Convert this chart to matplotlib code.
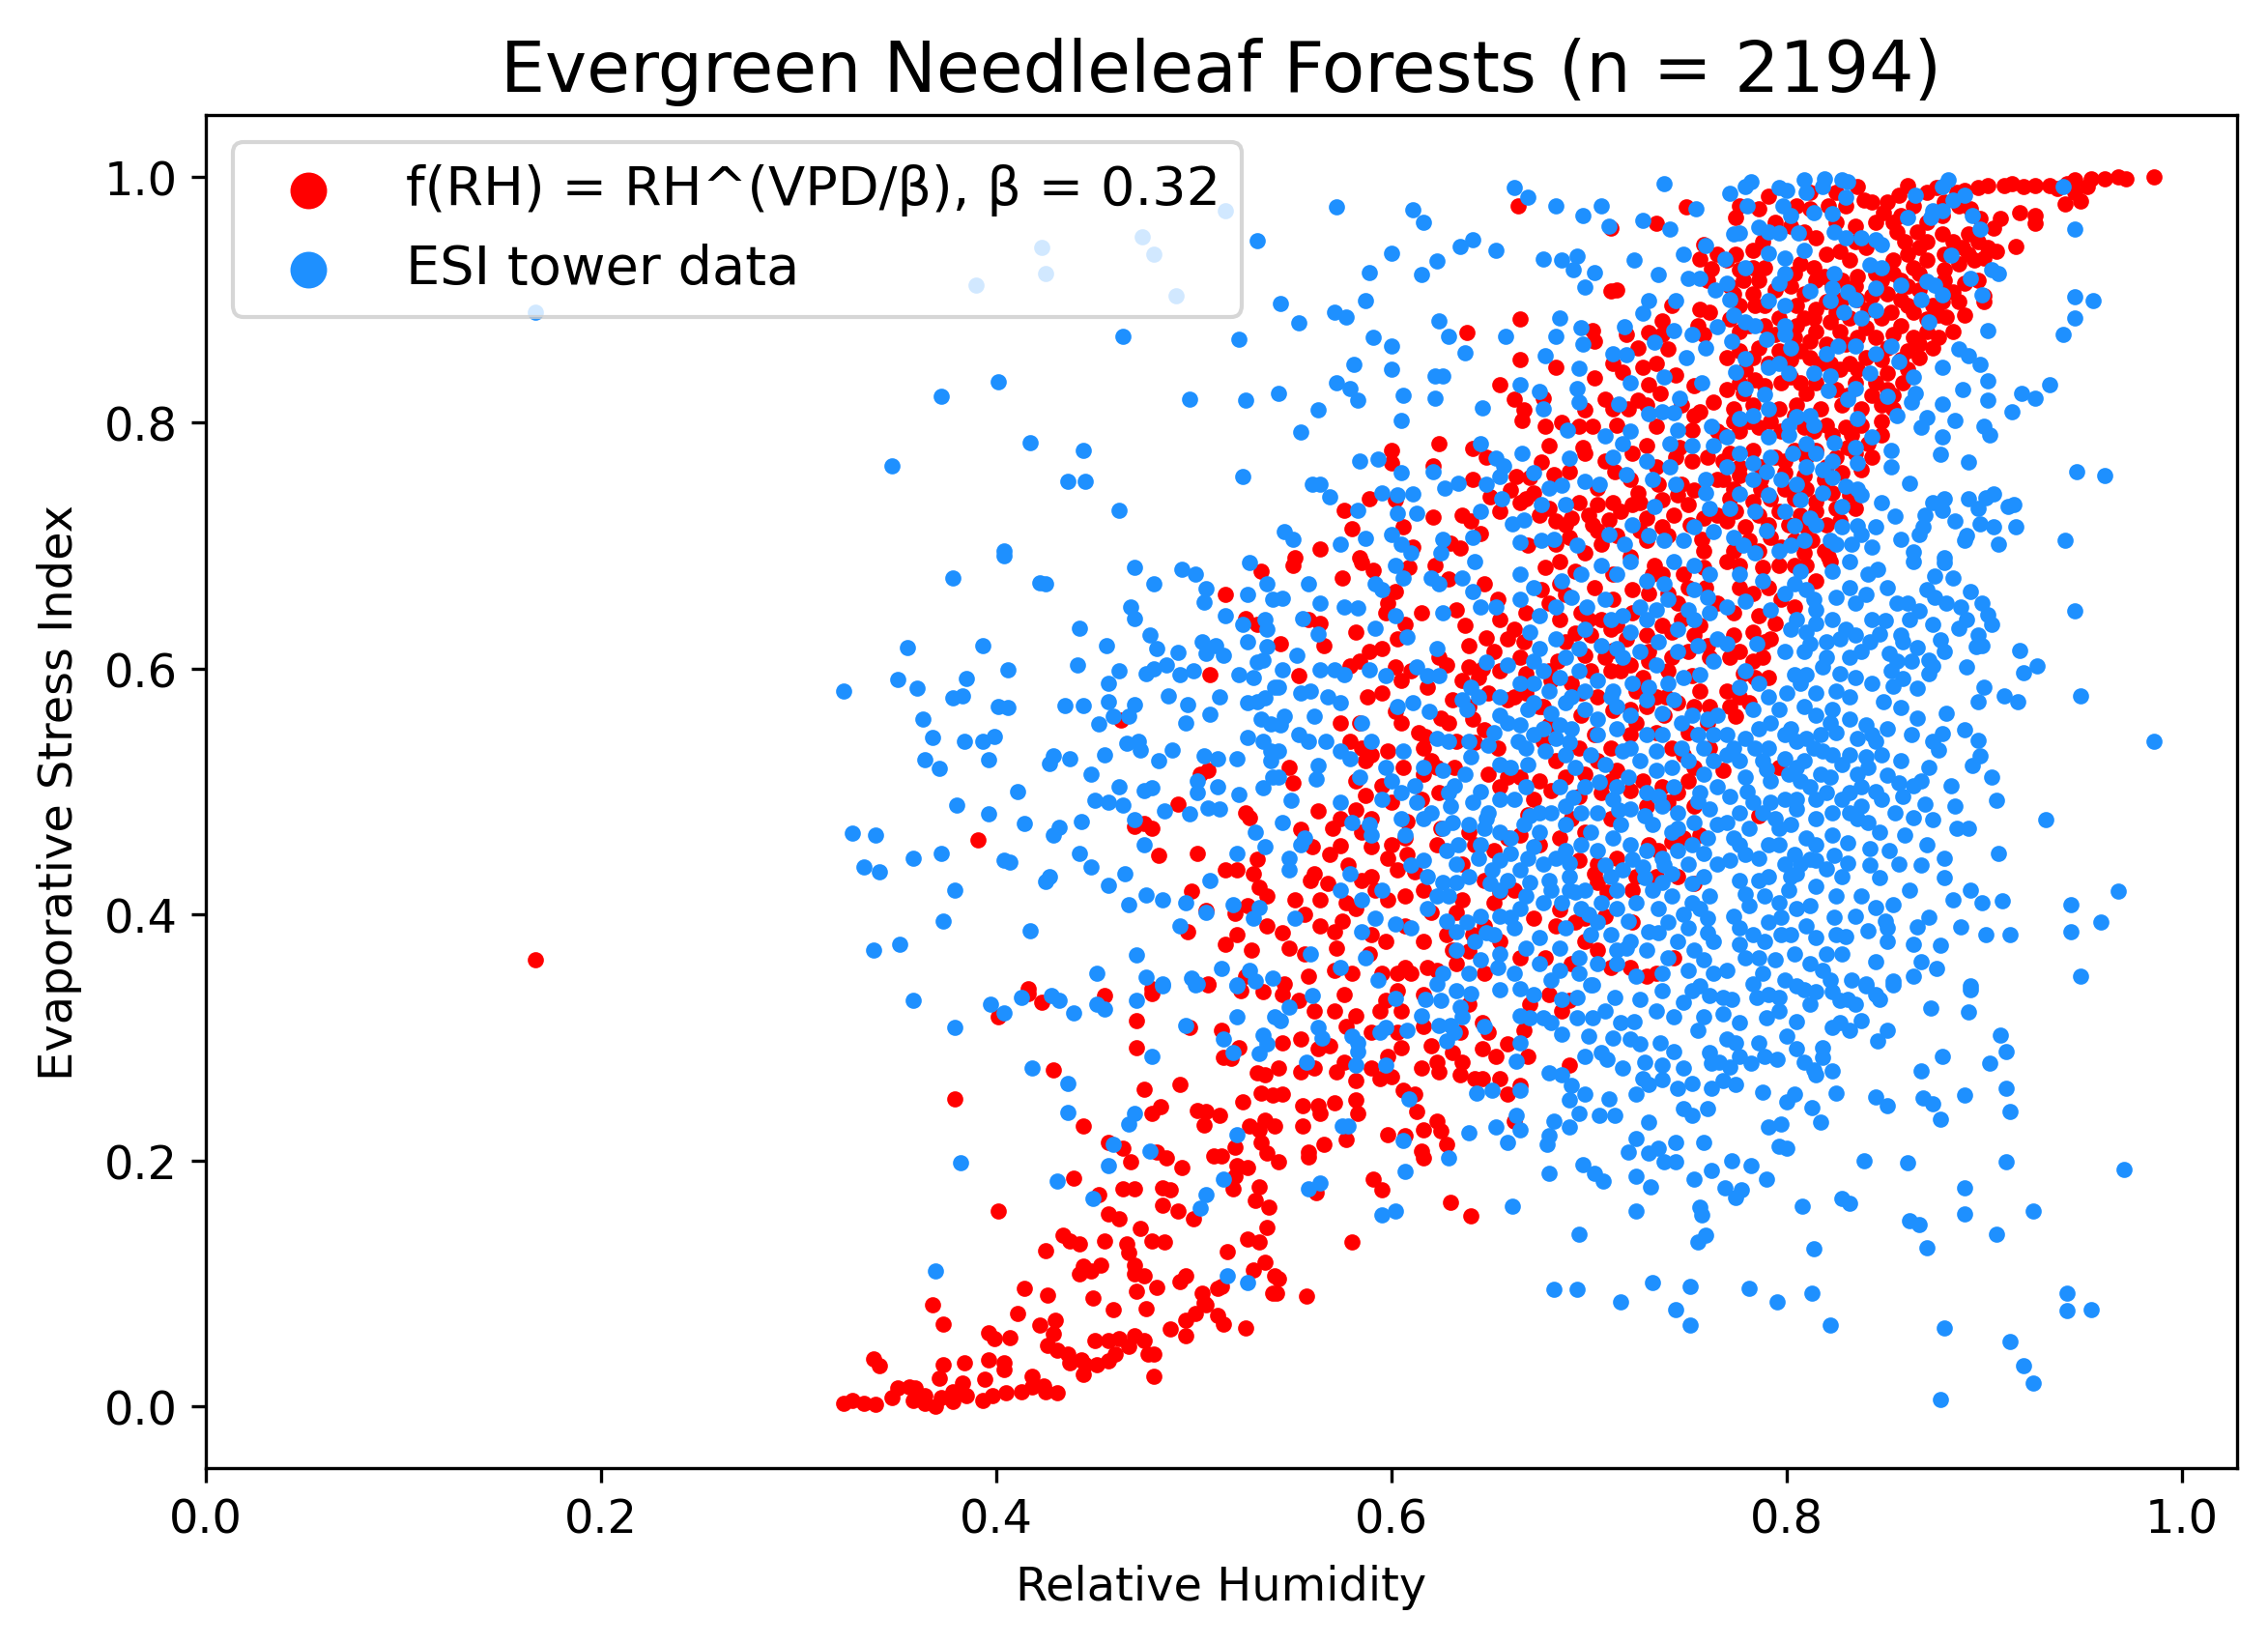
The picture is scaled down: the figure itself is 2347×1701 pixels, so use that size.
import matplotlib
matplotlib.use('Agg')
import matplotlib.pyplot as plt
import numpy as np

title = 'Evergreen Needleleaf Forests (n = 2194)'
model_label = 'f(RH) = RH^(VPD/β), β = 0.32'
tower_label = 'ESI tower data'

# (relative humidity, ESI), f(RH) model points
model_points = [
    (0.167, 0.363),
    (0.323, 0.003), (0.327, 0.005), (0.333, 0.003), (0.339, 0.002), (0.338, 0.039), (0.341, 0.033), (0.347, 0.007),
    (0.350, 0.015), (0.356, 0.016), (0.358, 0.005), (0.359, 0.015), (0.364, 0.009), (0.364, 0.003), (0.369, 0.0),
    (0.372, 0.007), (0.371, 0.023), (0.373, 0.034), (0.378, 0.012), (0.378, 0.004), (0.383, 0.019), (0.385, 0.009),
    (0.384, 0.036), (0.393, 0.005), (0.394, 0.022), (0.396, 0.038), (0.398, 0.009), (0.404, 0.036), (0.404, 0.030),
    (0.405, 0.011), (0.413, 0.012), (0.418, 0.016), (0.418, 0.025), (0.424, 0.017), (0.425, 0.012), (0.431, 0.011),
    (0.396, 0.060), (0.399, 0.055), (0.407, 0.056), (0.411, 0.076), (0.414, 0.096), (0.368, 0.083), (0.373, 0.067),
    (0.379, 0.250), (0.401, 0.159), (0.422, 0.066), (0.426, 0.091), (0.426, 0.050), (0.429, 0.059), (0.430, 0.070),
    (0.431, 0.046), (0.434, 0.139), (0.437, 0.135), (0.436, 0.043), (0.437, 0.036), (0.425, 0.127), (0.429, 0.274),
    (0.439, 0.186), (0.442, 0.132), (0.443, 0.038), (0.444, 0.026), (0.445, 0.034), (0.444, 0.228), (0.442, 0.108),
    (0.444, 0.114), (0.448, 0.110), (0.453, 0.115), (0.449, 0.088), (0.450, 0.054), (0.451, 0.034), (0.455, 0.135),
    (0.457, 0.054), (0.457, 0.037), (0.460, 0.043), (0.459, 0.079), (0.457, 0.215), (0.452, 0.172), (0.457, 0.157),
    (0.462, 0.153), (0.464, 0.210), (0.468, 0.199), (0.464, 0.177), (0.470, 0.177), (0.466, 0.132), (0.467, 0.125),
    (0.470, 0.115), (0.470, 0.108), (0.475, 0.106), (0.471, 0.094), (0.462, 0.055), (0.467, 0.049), (0.470, 0.058),
    (0.475, 0.054), (0.477, 0.043), (0.480, 0.043), (0.480, 0.025), (0.476, 0.080), (0.481, 0.097), (0.473, 0.145),
    (0.479, 0.135), (0.485, 0.134), (0.471, 0.314), (0.471, 0.292), (0.475, 0.258), (0.479, 0.238), (0.483, 0.244),
    (0.486, 0.202), (0.481, 0.207), (0.493, 0.262), (0.494, 0.194), (0.484, 0.178), (0.488, 0.176), (0.484, 0.164),
    (0.492, 0.159), (0.500, 0.153), (0.488, 0.063), (0.496, 0.058), (0.496, 0.070), (0.501, 0.076), (0.505, 0.084),
    (0.512, 0.074), (0.515, 0.067), (0.526, 0.064), (0.493, 0.102), (0.496, 0.106), (0.504, 0.092), (0.506, 0.083),
    (0.512, 0.096), (0.514, 0.098), (0.517, 0.126), (0.527, 0.136), (0.533, 0.134), (0.536, 0.117), (0.530, 0.111),
    (0.541, 0.106), (0.540, 0.092), (0.537, 0.146), (0.538, 0.162), (0.531, 0.168), (0.533, 0.179), (0.520, 0.177),
    (0.521, 0.187), (0.522, 0.196), (0.527, 0.194), (0.521, 0.211), (0.534, 0.215), (0.537, 0.206), (0.525, 0.248),
    (0.528, 0.228), (0.533, 0.225), (0.536, 0.233), (0.502, 0.241), (0.506, 0.240), (0.513, 0.237), (0.505, 0.229),
    (0.510, 0.204), (0.514, 0.204), (0.514, 0.306), (0.515, 0.284), (0.519, 0.283), (0.523, 0.292), (0.532, 0.271),
    (0.536, 0.270), (0.534, 0.255), (0.540, 0.253), (0.498, 0.308), (0.479, 0.336), (0.507, 0.343), (0.524, 0.338),
    (0.535, 0.337), (0.416, 0.336), (0.423, 0.329), (0.401, 0.317), (0.455, 0.334),
    (0.534, 0.679), (0.516, 0.660), (0.526, 0.641), (0.532, 0.636), (0.508, 0.595), (0.463, 0.558), (0.503, 0.514),
    (0.507, 0.517), (0.492, 0.490), (0.526, 0.483), (0.528, 0.479), (0.470, 0.472), (0.475, 0.474), (0.479, 0.470),
    (0.391, 0.461), (0.482, 0.448), (0.502, 0.450), (0.532, 0.445), (0.516, 0.436), (0.522, 0.436), (0.530, 0.433),
    (0.533, 0.422), (0.537, 0.415), (0.499, 0.419), (0.506, 0.403), (0.521, 0.401), (0.527, 0.407), (0.537, 0.391),
    (0.497, 0.386), (0.522, 0.384), (0.516, 0.376), (0.529, 0.371), (0.507, 0.344), (0.526, 0.350), (0.416, 0.340),
    (0.479, 0.340),
    (0.664, 0.976), (0.711, 0.958), (0.734, 0.962), (0.749, 0.975), (0.758, 0.945), (0.756, 0.933), (0.762, 0.925),
    (0.765, 0.937), (0.711, 0.907), (0.714, 0.908), (0.665, 0.884), (0.638, 0.873), (0.665, 0.851), (0.683, 0.845),
    (0.702, 0.875), (0.703, 0.866), (0.719, 0.872), (0.725, 0.861), (0.730, 0.873), (0.737, 0.883), (0.740, 0.860),
    (0.755, 0.879), (0.756, 0.892), (0.761, 0.890), (0.758, 0.872), (0.712, 0.848), (0.717, 0.841), (0.734, 0.848),
    (0.744, 0.839), (0.703, 0.836), (0.708, 0.819), (0.730, 0.831), (0.736, 0.824), (0.753, 0.830), (0.756, 0.809),
    (0.763, 0.817), (0.655, 0.831), (0.662, 0.819), (0.667, 0.810), (0.666, 0.802), (0.677, 0.820), (0.678, 0.797),
    (0.686, 0.800), (0.698, 0.810), (0.695, 0.797), (0.702, 0.797), (0.714, 0.798), (0.720, 0.811), (0.725, 0.818),
    (0.734, 0.797), (0.752, 0.794), (0.680, 0.781), (0.697, 0.780), (0.698, 0.775), (0.708, 0.769), (0.722, 0.775),
    (0.729, 0.781), (0.746, 0.780), (0.752, 0.769), (0.624, 0.783), (0.641, 0.779), (0.648, 0.772), (0.600, 0.777),
    (0.600, 0.767), (0.621, 0.765), (0.641, 0.754), (0.663, 0.756), (0.670, 0.755), (0.682, 0.758), (0.704, 0.747),
    (0.725, 0.743), (0.726, 0.735), (0.737, 0.737), (0.745, 0.741), (0.753, 0.745), (0.589, 0.738), (0.602, 0.737),
    (0.576, 0.729), (0.580, 0.714), (0.606, 0.715), (0.621, 0.723), (0.636, 0.725), (0.640, 0.720), (0.564, 0.697),
    (0.584, 0.690), (0.611, 0.699), (0.630, 0.702), (0.635, 0.698), (0.551, 0.690), (0.655, 0.728), (0.665, 0.735),
    (0.668, 0.738), (0.675, 0.725), (0.683, 0.720), (0.691, 0.722), (0.702, 0.717), (0.710, 0.721), (0.714, 0.708),
    (0.722, 0.733), (0.729, 0.722), (0.743, 0.725), (0.750, 0.733), (0.751, 0.717), (0.706, 0.701), (0.683, 0.701),
    (0.669, 0.700), (0.698, 0.694), (0.721, 0.691), (0.758, 0.696),
    (0.986, 1.0), (0.972, 0.998), (0.968, 1.0), (0.961, 0.998), (0.954, 0.998), (0.952, 0.992), (0.946, 0.997),
    (0.942, 0.994), (0.937, 0.990), (0.946, 0.987), (0.949, 0.980), (0.941, 0.978), (0.933, 0.993), (0.926, 0.993),
    (0.920, 0.992), (0.914, 0.994), (0.910, 0.993), (0.902, 0.993), (0.897, 0.991), (0.890, 0.989), (0.886, 0.987),
    (0.876, 0.991), (0.871, 0.987), (0.861, 0.993), (0.857, 0.985), (0.851, 0.979), (0.849, 0.971), (0.836, 0.992),
    (0.839, 0.981), (0.825, 0.987), (0.821, 0.976), (0.812, 0.987), (0.812, 0.974), (0.791, 0.984), (0.774, 0.967),
    (0.918, 0.971), (0.926, 0.968), (0.926, 0.962), (0.916, 0.943), (0.908, 0.966), (0.905, 0.958), (0.898, 0.966),
    (0.893, 0.974), (0.887, 0.976), (0.880, 0.979), (0.879, 0.968), (0.871, 0.963), (0.864, 0.976), (0.858, 0.968),
    (0.854, 0.963), (0.866, 0.955), (0.860, 0.947), (0.867, 0.942), (0.879, 0.953), (0.884, 0.947), (0.892, 0.953),
    (0.897, 0.947), (0.902, 0.942), (0.900, 0.934), (0.892, 0.937), (0.887, 0.929), (0.880, 0.924), (0.871, 0.932),
    (0.864, 0.926), (0.861, 0.937), (0.854, 0.932), (0.840, 0.942), (0.835, 0.947), (0.832, 0.932), (0.827, 0.939),
    (0.820, 0.937), (0.815, 0.950), (0.809, 0.955), (0.802, 0.960), (0.794, 0.963), (0.783, 0.940), (0.788, 0.947),
    (0.774, 0.937), (0.770, 0.932), (0.789, 0.926), (0.807, 0.929), (0.814, 0.926), (0.819, 0.919), (0.828, 0.916),
    (0.836, 0.919), (0.845, 0.921), (0.854, 0.921), (0.861, 0.911), (0.867, 0.908), (0.877, 0.911), (0.884, 0.906),
    (0.890, 0.913), (0.897, 0.916), (0.900, 0.903), (0.887, 0.898), (0.881, 0.886), (0.874, 0.895), (0.871, 0.884),
    (0.864, 0.890), (0.858, 0.900), (0.851, 0.905), (0.843, 0.903), (0.836, 0.900), (0.828, 0.900), (0.820, 0.898),
    (0.809, 0.905), (0.802, 0.911), (0.794, 0.908), (0.786, 0.916), (0.778, 0.916), (0.771, 0.911), (0.776, 0.895),
    (0.784, 0.895), (0.781, 0.879), (0.796, 0.885), (0.805, 0.879), (0.814, 0.885), (0.822, 0.882), (0.832, 0.885),
    (0.848, 0.885), (0.858, 0.879), (0.867, 0.864), (0.874, 0.861), (0.864, 0.869), (0.854, 0.872), (0.845, 0.869),
    (0.836, 0.869), (0.830, 0.864), (0.820, 0.864), (0.812, 0.866), (0.804, 0.869), (0.794, 0.872), (0.786, 0.861),
    (0.776, 0.858), (0.770, 0.853), (0.779, 0.843), (0.791, 0.848), (0.802, 0.851), (0.812, 0.853), (0.822, 0.848),
    (0.832, 0.848), (0.840, 0.853), (0.848, 0.851), (0.858, 0.851), (0.861, 0.843), (0.859, 0.832), (0.851, 0.827),
    (0.845, 0.832), (0.835, 0.832), (0.825, 0.827), (0.815, 0.832), (0.807, 0.832), (0.797, 0.832), (0.789, 0.830),
    (0.778, 0.824), (0.770, 0.827), (0.773, 0.811), (0.783, 0.814), (0.796, 0.811), (0.805, 0.814), (0.817, 0.811),
    (0.828, 0.814), (0.838, 0.811), (0.848, 0.814), (0.854, 0.811), (0.848, 0.801), (0.838, 0.798), (0.830, 0.796),
    (0.820, 0.798), (0.809, 0.796), (0.797, 0.793), (0.786, 0.796), (0.776, 0.793), (0.768, 0.790), (0.771, 0.775),
    (0.783, 0.777), (0.794, 0.772), (0.804, 0.777), (0.815, 0.777), (0.825, 0.772), (0.835, 0.775), (0.843, 0.772),
    (0.838, 0.762), (0.828, 0.759), (0.819, 0.754), (0.809, 0.757), (0.799, 0.759), (0.787, 0.754), (0.776, 0.757),
    (0.768, 0.754), (0.771, 0.738), (0.783, 0.736), (0.792, 0.738), (0.804, 0.738), (0.815, 0.736), (0.825, 0.730),
    (0.832, 0.741), (0.770, 0.720), (0.779, 0.715), (0.791, 0.717), (0.801, 0.717), (0.810, 0.715), (0.820, 0.717),
    (0.773, 0.696), (0.786, 0.696), (0.797, 0.699), (0.809, 0.694), (0.819, 0.696), (0.871, 0.874), (0.877, 0.887),
    (0.900, 0.898),
    (0.550, 0.684), (0.575, 0.674), (0.585, 0.686), (0.591, 0.680), (0.602, 0.663), (0.609, 0.682), (0.622, 0.684),
    (0.629, 0.673), (0.647, 0.669), (0.654, 0.656), (0.655, 0.640), (0.637, 0.635), (0.639, 0.619), (0.624, 0.609),
    (0.628, 0.603), (0.597, 0.645), (0.607, 0.636), (0.603, 0.624), (0.595, 0.616), (0.589, 0.614), (0.584, 0.606),
    (0.579, 0.602), (0.564, 0.637), (0.558, 0.640), (0.544, 0.620), (0.553, 0.594), (0.588, 0.577), (0.602, 0.601),
    (0.605, 0.590), (0.610, 0.598), (0.602, 0.565), (0.605, 0.556), (0.614, 0.548), (0.584, 0.556), (0.579, 0.541),
    (0.590, 0.530), (0.598, 0.533), (0.587, 0.525), (0.585, 0.535), (0.548, 0.520), (0.550, 0.507), (0.582, 0.509),
    (0.587, 0.497), (0.563, 0.484), (0.574, 0.478), (0.590, 0.478), (0.585, 0.467), (0.554, 0.469), (0.569, 0.449),
    (0.574, 0.456), (0.561, 0.433), (0.559, 0.428), (0.598, 0.446), (0.608, 0.449), (0.608, 0.476), (0.607, 0.462),
    (0.600, 0.491), (0.616, 0.514), (0.615, 0.494), (0.624, 0.499), (0.623, 0.520), (0.620, 0.525), (0.616, 0.535),
    (0.633, 0.541), (0.641, 0.559), (0.647, 0.550), (0.654, 0.535), (0.649, 0.514), (0.655, 0.504), (0.659, 0.512),
    (0.631, 0.575), (0.639, 0.569), (0.649, 0.580), (0.644, 0.593), (0.662, 0.577), (0.659, 0.624), (0.667, 0.622),
    (0.665, 0.609), (0.675, 0.569), (0.680, 0.598), (0.680, 0.554), (0.677, 0.541), (0.672, 0.494), (0.669, 0.481),
    (0.681, 0.501), (0.695, 0.496), (0.706, 0.499), (0.691, 0.478), (0.698, 0.467), (0.703, 0.433), (0.709, 0.418),
    (0.722, 0.420), (0.734, 0.431), (0.735, 0.452), (0.742, 0.459), (0.748, 0.462), (0.756, 0.465), (0.729, 0.488),
    (0.737, 0.504), (0.745, 0.499), (0.753, 0.488), (0.721, 0.501), (0.711, 0.478), (0.711, 0.509), (0.698, 0.514),
    (0.695, 0.535), (0.703, 0.546), (0.711, 0.535), (0.721, 0.546), (0.734, 0.548), (0.742, 0.535), (0.748, 0.530),
    (0.753, 0.520), (0.761, 0.535), (0.721, 0.567), (0.729, 0.569), (0.739, 0.577), (0.753, 0.569), (0.761, 0.569),
    (0.704, 0.577), (0.696, 0.562), (0.691, 0.588), (0.701, 0.598), (0.711, 0.598), (0.721, 0.603), (0.730, 0.606),
    (0.742, 0.609), (0.750, 0.614), (0.760, 0.619), (0.756, 0.635), (0.747, 0.640), (0.737, 0.635), (0.729, 0.627),
    (0.719, 0.624), (0.711, 0.632), (0.701, 0.627), (0.693, 0.629), (0.685, 0.640), (0.680, 0.653), (0.678, 0.682),
    (0.685, 0.669), (0.693, 0.679), (0.703, 0.666), (0.712, 0.677), (0.722, 0.664), (0.732, 0.677), (0.740, 0.661),
    (0.750, 0.666), (0.758, 0.682), (0.765, 0.653), (0.639, 0.467), (0.642, 0.457), (0.652, 0.452), (0.659, 0.462),
    (0.636, 0.441), (0.647, 0.428), (0.662, 0.420), (0.652, 0.410), (0.636, 0.412), (0.633, 0.402), (0.620, 0.402),
    (0.616, 0.420), (0.607, 0.415), (0.598, 0.412), (0.585, 0.428), (0.577, 0.410), (0.564, 0.412), (0.551, 0.412),
    (0.564, 0.391), (0.548, 0.373), (0.556, 0.368), (0.572, 0.373), (0.589, 0.368), (0.597, 0.378), (0.607, 0.357),
    (0.610, 0.352), (0.603, 0.352), (0.595, 0.352), (0.580, 0.352), (0.571, 0.355), (0.558, 0.350), (0.546, 0.344),
    (0.623, 0.355), (0.631, 0.371), (0.641, 0.384), (0.655, 0.378), (0.665, 0.365), (0.647, 0.352), (0.672, 0.397),
    (0.683, 0.391), (0.693, 0.394), (0.698, 0.378), (0.704, 0.371), (0.711, 0.357), (0.704, 0.426), (0.734, 0.352),
    (0.743, 0.365), (0.722, 0.394),
    (0.770, 0.687), (0.776, 0.684), (0.788, 0.682), (0.796, 0.684), (0.804, 0.684), (0.810, 0.684), (0.815, 0.671),
    (0.822, 0.687), (0.783, 0.661), (0.791, 0.666), (0.797, 0.656), (0.804, 0.650), (0.786, 0.643), (0.794, 0.637),
    (0.773, 0.627), (0.783, 0.630), (0.792, 0.624), (0.771, 0.609), (0.783, 0.606), (0.788, 0.609), (0.778, 0.596),
    (0.784, 0.593), (0.770, 0.582), (0.781, 0.572), (0.771, 0.569), (0.774, 0.561), (0.796, 0.520), (0.768, 0.517),
    (0.786, 0.480),
    (0.545, 0.335), (0.553, 0.330), (0.561, 0.322), (0.571, 0.322), (0.576, 0.335), (0.582, 0.318), (0.545, 0.296),
    (0.554, 0.299), (0.563, 0.291), (0.569, 0.293), (0.577, 0.309), (0.543, 0.275), (0.554, 0.272), (0.561, 0.275),
    (0.572, 0.272), (0.576, 0.280), (0.582, 0.265), (0.590, 0.275), (0.594, 0.267), (0.600, 0.268), (0.590, 0.304),
    (0.594, 0.322), (0.597, 0.330), (0.603, 0.338), (0.605, 0.322), (0.603, 0.304), (0.605, 0.292), (0.598, 0.285),
    (0.616, 0.335), (0.616, 0.309), (0.620, 0.293), (0.615, 0.275), (0.623, 0.280), (0.624, 0.272), (0.631, 0.288),
    (0.635, 0.304), (0.636, 0.280), (0.635, 0.270), (0.642, 0.267), (0.646, 0.267), (0.646, 0.291), (0.649, 0.304),
    (0.646, 0.312), (0.639, 0.327), (0.653, 0.285), (0.655, 0.267), (0.659, 0.295), (0.669, 0.285), (0.667, 0.306),
    (0.670, 0.327), (0.680, 0.335), (0.686, 0.322), (0.690, 0.330), (0.690, 0.278), (0.545, 0.254), (0.555, 0.245),
    (0.563, 0.245), (0.564, 0.238), (0.571, 0.247), (0.582, 0.249), (0.583, 0.238), (0.606, 0.257), (0.612, 0.254),
    (0.613, 0.240), (0.577, 0.217), (0.566, 0.213), (0.555, 0.228), (0.541, 0.228), (0.543, 0.199), (0.558, 0.207),
    (0.558, 0.203), (0.598, 0.221), (0.607, 0.220), (0.616, 0.225), (0.623, 0.232), (0.625, 0.224), (0.628, 0.213),
    (0.615, 0.208), (0.616, 0.202), (0.591, 0.185), (0.595, 0.176), (0.562, 0.174), (0.630, 0.166), (0.640, 0.155),
    (0.580, 0.134), (0.543, 0.104), (0.542, 0.092), (0.557, 0.090), (0.662, 0.232), (0.659, 0.254), (0.665, 0.261),
]

# more f(RH) points read inside the dense band, where dots overlap
model_core_points = [
    (0.659, 0.575), (0.668, 0.580), (0.677, 0.569), (0.681, 0.590), (0.688, 0.622), (0.698, 0.611), (0.706, 0.640),
    (0.714, 0.635), (0.722, 0.645), (0.730, 0.661), (0.737, 0.677), (0.745, 0.653), (0.753, 0.627), (0.761, 0.609),
    (0.708, 0.609), (0.716, 0.598), (0.724, 0.582), (0.734, 0.577), (0.745, 0.572), (0.756, 0.582), (0.704, 0.525),
    (0.714, 0.517), (0.727, 0.509), (0.740, 0.491), (0.750, 0.509), (0.688, 0.512), (0.683, 0.525), (0.675, 0.509),
    (0.665, 0.512), (0.665, 0.465), (0.675, 0.457), (0.685, 0.462), (0.695, 0.444), (0.704, 0.441), (0.714, 0.446),
    (0.724, 0.431), (0.730, 0.457), (0.745, 0.431), (0.753, 0.425), (0.685, 0.404), (0.678, 0.365), (0.691, 0.360),
    (0.698, 0.397), (0.708, 0.399), (0.721, 0.357), (0.729, 0.350), (0.655, 0.418), (0.647, 0.391), (0.639, 0.370),
    (0.633, 0.360), (0.616, 0.378), (0.618, 0.357), (0.628, 0.384), (0.566, 0.619), (0.582, 0.630), (0.598, 0.653),
    (0.615, 0.645), (0.633, 0.648), (0.652, 0.614), (0.639, 0.601), (0.618, 0.585), (0.629, 0.556), (0.595, 0.580),
    (0.574, 0.556), (0.600, 0.457), (0.623, 0.457), (0.603, 0.436), (0.590, 0.431), (0.582, 0.405), (0.571, 0.386),
    (0.590, 0.384), (0.607, 0.391),
    (0.776, 0.976), (0.786, 0.974), (0.805, 0.976), (0.830, 0.976), (0.843, 0.979), (0.845, 0.963), (0.835, 0.960),
    (0.825, 0.963), (0.856, 0.955), (0.871, 0.947), (0.889, 0.942), (0.895, 0.932), (0.906, 0.939), (0.880, 0.937),
    (0.867, 0.921), (0.880, 0.916), (0.858, 0.916), (0.848, 0.916), (0.835, 0.911), (0.823, 0.911), (0.815, 0.916),
    (0.804, 0.921), (0.783, 0.926), (0.776, 0.924), (0.773, 0.905), (0.783, 0.905), (0.789, 0.895), (0.805, 0.895),
    (0.815, 0.892), (0.825, 0.890), (0.841, 0.892), (0.853, 0.890), (0.861, 0.895), (0.879, 0.898), (0.890, 0.887),
    (0.884, 0.874), (0.877, 0.869), (0.861, 0.858), (0.851, 0.861), (0.840, 0.877), (0.827, 0.874), (0.815, 0.874),
    (0.809, 0.885), (0.789, 0.879), (0.776, 0.874), (0.771, 0.884), (0.783, 0.853), (0.796, 0.858), (0.807, 0.858),
    (0.817, 0.848), (0.827, 0.843), (0.836, 0.843), (0.851, 0.840), (0.867, 0.853), (0.776, 0.832), (0.784, 0.835),
    (0.802, 0.837), (0.810, 0.824), (0.831, 0.822), (0.843, 0.822), (0.854, 0.822), (0.773, 0.801), (0.781, 0.801),
    (0.792, 0.801), (0.804, 0.806), (0.814, 0.793), (0.823, 0.790), (0.833, 0.790), (0.841, 0.783), (0.848, 0.790),
    (0.831, 0.780), (0.820, 0.764), (0.810, 0.772), (0.799, 0.769), (0.787, 0.764), (0.776, 0.764), (0.768, 0.769),
    (0.773, 0.746), (0.787, 0.746), (0.799, 0.746), (0.810, 0.746), (0.823, 0.743), (0.835, 0.730), (0.774, 0.728),
    (0.786, 0.725), (0.796, 0.728), (0.807, 0.725), (0.815, 0.728), (0.827, 0.720), (0.781, 0.704), (0.792, 0.707),
    (0.804, 0.704), (0.813, 0.704), (0.821, 0.691),
    (0.760, 0.916), (0.742, 0.895), (0.737, 0.872), (0.727, 0.845), (0.712, 0.811), (0.729, 0.814), (0.747, 0.814),
    (0.753, 0.806), (0.765, 0.793), (0.744, 0.772), (0.734, 0.764), (0.721, 0.754), (0.712, 0.735), (0.704, 0.733),
    (0.695, 0.735), (0.688, 0.717), (0.680, 0.730), (0.672, 0.743), (0.704, 0.712), (0.729, 0.704), (0.737, 0.715),
    (0.758, 0.722), (0.765, 0.754), (0.760, 0.772),
    (0.776, 0.666), (0.773, 0.645), (0.789, 0.622), (0.776, 0.614), (0.791, 0.593), (0.776, 0.577),
    (0.685, 0.687), (0.733, 0.684), (0.748, 0.677), (0.759, 0.666), (0.742, 0.630), (0.730, 0.614), (0.712, 0.656),
    (0.696, 0.645), (0.688, 0.660), (0.676, 0.664), (0.668, 0.645), (0.662, 0.632), (0.648, 0.625), (0.655, 0.598),
    (0.668, 0.596), (0.684, 0.606), (0.696, 0.580), (0.712, 0.566), (0.724, 0.556), (0.738, 0.562), (0.750, 0.548),
    (0.760, 0.556), (0.752, 0.594), (0.740, 0.598), (0.727, 0.593), (0.712, 0.615), (0.700, 0.640),
    (0.690, 0.707), (0.700, 0.725), (0.716, 0.728), (0.726, 0.712), (0.740, 0.708), (0.757, 0.705), (0.765, 0.725),
    (0.747, 0.750), (0.735, 0.750), (0.713, 0.760), (0.690, 0.760), (0.676, 0.768), (0.660, 0.745), (0.650, 0.740),
    (0.645, 0.710),
    (0.560, 0.455), (0.570, 0.470), (0.582, 0.485), (0.595, 0.505), (0.606, 0.520), (0.617, 0.545), (0.625, 0.560),
    (0.636, 0.590), (0.646, 0.600), (0.590, 0.455), (0.578, 0.440), (0.568, 0.425), (0.556, 0.400), (0.545, 0.385),
    (0.575, 0.395), (0.592, 0.420), (0.612, 0.435), (0.625, 0.470), (0.632, 0.520), (0.642, 0.540),
]

tower_points = [
    (0.167, 0.890), (0.390, 0.912), (0.423, 0.942), (0.425, 0.921), (0.474, 0.951), (0.480, 0.937), (0.491, 0.903),
    (0.516, 0.972), (0.532, 0.948), (0.347, 0.765), (0.372, 0.821), (0.401, 0.833), (0.404, 0.696), (0.417, 0.784),
    (0.436, 0.752), (0.444, 0.777), (0.445, 0.752), (0.462, 0.729), (0.464, 0.870), (0.498, 0.819), (0.523, 0.868),
    (0.525, 0.756), (0.526, 0.818),
    (0.358, 0.330), (0.379, 0.308), (0.397, 0.327), (0.404, 0.320), (0.413, 0.333), (0.428, 0.334), (0.432, 0.330),
    (0.439, 0.320), (0.451, 0.327), (0.455, 0.323), (0.471, 0.330), (0.484, 0.342), (0.501, 0.343), (0.522, 0.342),
    (0.418, 0.275), (0.436, 0.263), (0.436, 0.239), (0.382, 0.198), (0.369, 0.110), (0.431, 0.183), (0.449, 0.169),
    (0.457, 0.196), (0.459, 0.213), (0.467, 0.230), (0.470, 0.238), (0.478, 0.208), (0.479, 0.285), (0.496, 0.310),
    (0.515, 0.299), (0.522, 0.317), (0.520, 0.288), (0.535, 0.302), (0.533, 0.287), (0.537, 0.295), (0.541, 0.317),
    (0.522, 0.221), (0.515, 0.185), (0.506, 0.172), (0.503, 0.161), (0.517, 0.106), (0.527, 0.101),
    (0.378, 0.674), (0.404, 0.692), (0.422, 0.670), (0.425, 0.669), (0.470, 0.682), (0.480, 0.669), (0.494, 0.681),
    (0.501, 0.677), (0.506, 0.665), (0.505, 0.654), (0.528, 0.686), (0.537, 0.669), (0.527, 0.660), (0.540, 0.656),
    (0.516, 0.643), (0.525, 0.636), (0.536, 0.640), (0.537, 0.632), (0.468, 0.650), (0.470, 0.641), (0.442, 0.633),
    (0.355, 0.617), (0.393, 0.619), (0.406, 0.599), (0.441, 0.603), (0.456, 0.619), (0.478, 0.627), (0.481, 0.616),
    (0.492, 0.613), (0.504, 0.622), (0.511, 0.619), (0.506, 0.612), (0.515, 0.611), (0.527, 0.622), (0.537, 0.618),
    (0.535, 0.607), (0.532, 0.605), (0.323, 0.582), (0.350, 0.591), (0.360, 0.584), (0.385, 0.592), (0.378, 0.576),
    (0.383, 0.578), (0.401, 0.569), (0.406, 0.568), (0.363, 0.559), (0.368, 0.544), (0.384, 0.541), (0.393, 0.541),
    (0.399, 0.545), (0.396, 0.526), (0.364, 0.526), (0.371, 0.519), (0.435, 0.570), (0.444, 0.570), (0.457, 0.588),
    (0.462, 0.598), (0.457, 0.573), (0.452, 0.555), (0.459, 0.561), (0.467, 0.561), (0.470, 0.571), (0.476, 0.596),
    (0.480, 0.600), (0.486, 0.603), (0.493, 0.595), (0.500, 0.598), (0.487, 0.578), (0.497, 0.571), (0.496, 0.556),
    (0.508, 0.563), (0.513, 0.577), (0.523, 0.595), (0.530, 0.593), (0.527, 0.572), (0.532, 0.573), (0.536, 0.576),
    (0.534, 0.559), (0.539, 0.555), (0.541, 0.585), (0.527, 0.544), (0.535, 0.541), (0.539, 0.533), (0.539, 0.525),
    (0.540, 0.512), (0.535, 0.503), (0.466, 0.539), (0.472, 0.541), (0.473, 0.534), (0.489, 0.534), (0.482, 0.525),
    (0.505, 0.529), (0.512, 0.527), (0.522, 0.527), (0.455, 0.530), (0.427, 0.523), (0.429, 0.529), (0.437, 0.527),
    (0.448, 0.514), (0.411, 0.500), (0.380, 0.489), (0.396, 0.482), (0.414, 0.474), (0.429, 0.465), (0.432, 0.471),
    (0.443, 0.476), (0.450, 0.493), (0.457, 0.491), (0.464, 0.489), (0.462, 0.504), (0.475, 0.501), (0.479, 0.503),
    (0.502, 0.509), (0.502, 0.499), (0.512, 0.504), (0.523, 0.498), (0.485, 0.484), (0.498, 0.482), (0.507, 0.487),
    (0.513, 0.486), (0.531, 0.467), (0.536, 0.455), (0.522, 0.450), (0.470, 0.477), (0.475, 0.457), (0.327, 0.466),
    (0.339, 0.465), (0.333, 0.439), (0.341, 0.435), (0.358, 0.446), (0.372, 0.450), (0.404, 0.444), (0.407, 0.443),
    (0.379, 0.420), (0.373, 0.395), (0.425, 0.427), (0.427, 0.431), (0.442, 0.450), (0.448, 0.439), (0.457, 0.424),
    (0.465, 0.433), (0.467, 0.408), (0.476, 0.416), (0.484, 0.412), (0.496, 0.410), (0.506, 0.402), (0.508, 0.428),
    (0.520, 0.408), (0.533, 0.406), (0.530, 0.397), (0.493, 0.391), (0.417, 0.387), (0.338, 0.371), (0.351, 0.376),
    (0.471, 0.367), (0.451, 0.352), (0.476, 0.349), (0.484, 0.344), (0.499, 0.348), (0.502, 0.344), (0.514, 0.356),
    (0.522, 0.343), (0.528, 0.355), (0.531, 0.346), (0.540, 0.348),
    (0.572, 0.975), (0.611, 0.973), (0.616, 0.963), (0.662, 0.991), (0.669, 0.983), (0.683, 0.976), (0.697, 0.968),
    (0.706, 0.976), (0.710, 0.960), (0.727, 0.964), (0.738, 0.994), (0.741, 0.957), (0.754, 0.974), (0.600, 0.938),
    (0.589, 0.922), (0.615, 0.920), (0.623, 0.931), (0.635, 0.943), (0.641, 0.949), (0.653, 0.940), (0.677, 0.933),
    (0.686, 0.932), (0.694, 0.935), (0.692, 0.924), (0.703, 0.922), (0.698, 0.910), (0.723, 0.932), (0.735, 0.920),
    (0.748, 0.937), (0.750, 0.917), (0.756, 0.917), (0.759, 0.944), (0.544, 0.897), (0.553, 0.881), (0.571, 0.890),
    (0.577, 0.886), (0.587, 0.899), (0.624, 0.883), (0.629, 0.870), (0.637, 0.857), (0.658, 0.870), (0.685, 0.885),
    (0.683, 0.870), (0.696, 0.877), (0.697, 0.864), (0.718, 0.878), (0.730, 0.899), (0.727, 0.889), (0.744, 0.899),
    (0.743, 0.875), (0.752, 0.872), (0.764, 0.908), (0.765, 0.878), (0.591, 0.869), (0.600, 0.862), (0.581, 0.847),
    (0.600, 0.843), (0.572, 0.832), (0.579, 0.828), (0.583, 0.818), (0.543, 0.824), (0.563, 0.810), (0.554, 0.792),
    (0.606, 0.822), (0.605, 0.802), (0.622, 0.820), (0.622, 0.838), (0.626, 0.838), (0.646, 0.812), (0.665, 0.831),
    (0.675, 0.825), (0.677, 0.811), (0.678, 0.854), (0.695, 0.844), (0.694, 0.828), (0.695, 0.817), (0.712, 0.856),
    (0.719, 0.855), (0.721, 0.832), (0.733, 0.865), (0.738, 0.837), (0.749, 0.853), (0.759, 0.861), (0.757, 0.832),
    (0.715, 0.815), (0.730, 0.807), (0.737, 0.809), (0.743, 0.808), (0.746, 0.820), (0.762, 0.797), (0.689, 0.794),
    (0.708, 0.789), (0.721, 0.793), (0.717, 0.783), (0.745, 0.794), (0.741, 0.783), (0.752, 0.781), (0.763, 0.781),
    (0.645, 0.783), (0.666, 0.775), (0.653, 0.771), (0.657, 0.765), (0.655, 0.756), (0.584, 0.769), (0.593, 0.770),
    (0.605, 0.759), (0.621, 0.760), (0.634, 0.751), (0.627, 0.747), (0.648, 0.750), (0.672, 0.759), (0.680, 0.747),
    (0.686, 0.749), (0.690, 0.771), (0.698, 0.752), (0.705, 0.750), (0.712, 0.772), (0.719, 0.758), (0.729, 0.769),
    (0.732, 0.754), (0.741, 0.764), (0.744, 0.750), (0.759, 0.754), (0.759, 0.743), (0.560, 0.750), (0.564, 0.750),
    (0.569, 0.740), (0.583, 0.729), (0.595, 0.743), (0.603, 0.741), (0.603, 0.726), (0.611, 0.742), (0.613, 0.726),
    (0.546, 0.711), (0.550, 0.705), (0.574, 0.701), (0.587, 0.706), (0.600, 0.709), (0.605, 0.701), (0.610, 0.694),
    (0.626, 0.705), (0.625, 0.694), (0.641, 0.707), (0.645, 0.728), (0.656, 0.738), (0.661, 0.718), (0.667, 0.721),
    (0.665, 0.703), (0.676, 0.733), (0.676, 0.704), (0.682, 0.705), (0.688, 0.733), (0.694, 0.700), (0.710, 0.709),
    (0.718, 0.701), (0.722, 0.717), (0.730, 0.708), (0.733, 0.732), (0.738, 0.704), (0.748, 0.704), (0.753, 0.715),
    (0.763, 0.711), (0.761, 0.730),
    (0.771, 0.986), (0.782, 0.996), (0.779, 0.992), (0.780, 0.976), (0.796, 0.991), (0.800, 0.989), (0.809, 0.997),
    (0.810, 0.987), (0.819, 0.998), (0.818, 0.992), (0.828, 0.997), (0.831, 0.996), (0.830, 0.983), (0.798, 0.976),
    (0.802, 0.968), (0.814, 0.971), (0.823, 0.970), (0.773, 0.953), (0.776, 0.954), (0.786, 0.959), (0.791, 0.955),
    (0.796, 0.954), (0.806, 0.954), (0.824, 0.955), (0.830, 0.950), (0.838, 0.950), (0.845, 0.949), (0.848, 0.945),
    (0.865, 0.985), (0.882, 0.997), (0.879, 0.992), (0.884, 0.981), (0.890, 0.985), (0.874, 0.972), (0.879, 0.972),
    (0.873, 0.967), (0.861, 0.967), (0.894, 0.968), (0.898, 0.957), (0.940, 0.992), (0.946, 0.957), (0.791, 0.938),
    (0.769, 0.933), (0.779, 0.926), (0.809, 0.940), (0.799, 0.934), (0.799, 0.921), (0.824, 0.921), (0.842, 0.928),
    (0.848, 0.926), (0.883, 0.936), (0.871, 0.915), (0.875, 0.912), (0.858, 0.912), (0.845, 0.909), (0.823, 0.909),
    (0.831, 0.906), (0.812, 0.907), (0.796, 0.913), (0.770, 0.913), (0.771, 0.900), (0.791, 0.899), (0.799, 0.895),
    (0.822, 0.899), (0.835, 0.900), (0.829, 0.890), (0.838, 0.885), (0.845, 0.891), (0.868, 0.900), (0.879, 0.904),
    (0.893, 0.917), (0.899, 0.904), (0.904, 0.924), (0.907, 0.921), (0.872, 0.882), (0.946, 0.902), (0.955, 0.899),
    (0.946, 0.885), (0.940, 0.872), (0.902, 0.875), (0.773, 0.887), (0.779, 0.882), (0.784, 0.879), (0.772, 0.866),
    (0.790, 0.868), (0.799, 0.879), (0.799, 0.872), (0.802, 0.861), (0.779, 0.852), (0.791, 0.845), (0.796, 0.848),
    (0.801, 0.840), (0.774, 0.841), (0.779, 0.828), (0.789, 0.823), (0.814, 0.840), (0.822, 0.838), (0.820, 0.856),
    (0.826, 0.862), (0.835, 0.862), (0.845, 0.856), (0.853, 0.862), (0.857, 0.850), (0.842, 0.840), (0.835, 0.828),
    (0.821, 0.826), (0.831, 0.819), (0.851, 0.821), (0.864, 0.837), (0.865, 0.824), (0.863, 0.817), (0.879, 0.845),
    (0.887, 0.860), (0.892, 0.854), (0.898, 0.847), (0.902, 0.834), (0.889, 0.827), (0.902, 0.818), (0.919, 0.824),
    (0.926, 0.820), (0.933, 0.831), (0.914, 0.809), (0.879, 0.815), (0.885, 0.802), (0.871, 0.804), (0.868, 0.796),
    (0.879, 0.788), (0.878, 0.774), (0.900, 0.797), (0.903, 0.790), (0.892, 0.768), (0.947, 0.760), (0.961, 0.757),
    (0.856, 0.806), (0.836, 0.803), (0.843, 0.788), (0.853, 0.777), (0.853, 0.764), (0.824, 0.784), (0.835, 0.780),
    (0.836, 0.767), (0.812, 0.806), (0.805, 0.805), (0.791, 0.811), (0.783, 0.806), (0.776, 0.803), (0.770, 0.788),
    (0.791, 0.788), (0.801, 0.798), (0.801, 0.790), (0.810, 0.783), (0.814, 0.798), (0.803, 0.775), (0.815, 0.775),
    (0.823, 0.769), (0.776, 0.775), (0.783, 0.767), (0.792, 0.772), (0.770, 0.764), (0.783, 0.754), (0.797, 0.754),
    (0.810, 0.764), (0.823, 0.755), (0.836, 0.746), (0.776, 0.742), (0.791, 0.741), (0.807, 0.737), (0.818, 0.743),
    (0.828, 0.732), (0.838, 0.741), (0.862, 0.751), (0.874, 0.735), (0.880, 0.738), (0.879, 0.729), (0.892, 0.738),
    (0.897, 0.730), (0.901, 0.739), (0.905, 0.742), (0.912, 0.732), (0.915, 0.733), (0.855, 0.724), (0.836, 0.716),
    (0.838, 0.709), (0.869, 0.715), (0.867, 0.709), (0.891, 0.708), (0.890, 0.704), (0.905, 0.715), (0.916, 0.715),
    (0.907, 0.701), (0.941, 0.704), (0.864, 0.695), (0.880, 0.690), (0.833, 0.701), (0.843, 0.699), (0.771, 0.730),
    (0.784, 0.728), (0.799, 0.728), (0.804, 0.716), (0.815, 0.717), (0.809, 0.704), (0.822, 0.704), (0.825, 0.701),
    (0.773, 0.707), (0.784, 0.694), (0.796, 0.696),
    (0.558, 0.669), (0.545, 0.657), (0.564, 0.653), (0.576, 0.650), (0.583, 0.649), (0.555, 0.641), (0.563, 0.628),
    (0.592, 0.633), (0.602, 0.643), (0.608, 0.626), (0.602, 0.684), (0.606, 0.674), (0.592, 0.669), (0.595, 0.664),
    (0.620, 0.674), (0.624, 0.669), (0.636, 0.674), (0.641, 0.663), (0.642, 0.687), (0.626, 0.645), (0.623, 0.616),
    (0.645, 0.650), (0.653, 0.650), (0.552, 0.611), (0.545, 0.599), (0.543, 0.585), (0.564, 0.599), (0.571, 0.599),
    (0.576, 0.595), (0.589, 0.599), (0.597, 0.594), (0.613, 0.601), (0.618, 0.594), (0.624, 0.594), (0.554, 0.580),
    (0.559, 0.582), (0.568, 0.577), (0.574, 0.572), (0.561, 0.561), (0.546, 0.561), (0.544, 0.554), (0.553, 0.546),
    (0.558, 0.541), (0.567, 0.541), (0.574, 0.533), (0.579, 0.527), (0.563, 0.521), (0.562, 0.510), (0.543, 0.533),
    (0.543, 0.512), (0.590, 0.541), (0.585, 0.556), (0.606, 0.533), (0.603, 0.569), (0.611, 0.572), (0.619, 0.565),
    (0.623, 0.543), (0.629, 0.541), (0.639, 0.541), (0.649, 0.538), (0.638, 0.567), (0.644, 0.577), (0.636, 0.575),
    (0.655, 0.577), (0.584, 0.512), (0.597, 0.520), (0.600, 0.509), (0.605, 0.499), (0.595, 0.494), (0.613, 0.491),
    (0.616, 0.520), (0.626, 0.517), (0.637, 0.514), (0.629, 0.499), (0.641, 0.491), (0.649, 0.483), (0.655, 0.494),
    (0.662, 0.494), (0.660, 0.520), (0.669, 0.522), (0.678, 0.533), (0.683, 0.543), (0.677, 0.551), (0.681, 0.564),
    (0.685, 0.554), (0.688, 0.530), (0.693, 0.520), (0.701, 0.530), (0.708, 0.522), (0.717, 0.533), (0.726, 0.525),
    (0.734, 0.517), (0.742, 0.520), (0.750, 0.525), (0.758, 0.514), (0.763, 0.525), (0.763, 0.546), (0.755, 0.546),
    (0.747, 0.556), (0.737, 0.546), (0.729, 0.546), (0.714, 0.551), (0.704, 0.559), (0.698, 0.567), (0.688, 0.572),
    (0.680, 0.582), (0.672, 0.588), (0.669, 0.567), (0.665, 0.554), (0.664, 0.541), (0.672, 0.606), (0.685, 0.593),
    (0.688, 0.609), (0.695, 0.616), (0.698, 0.582), (0.704, 0.590), (0.712, 0.582), (0.722, 0.588), (0.730, 0.585),
    (0.740, 0.588), (0.748, 0.593), (0.756, 0.595), (0.752, 0.562), (0.760, 0.559), (0.737, 0.564), (0.721, 0.562),
    (0.714, 0.569), (0.706, 0.619), (0.714, 0.616), (0.726, 0.614), (0.735, 0.622), (0.745, 0.632), (0.753, 0.640),
    (0.761, 0.645), (0.755, 0.619), (0.765, 0.624), (0.734, 0.648), (0.726, 0.650), (0.717, 0.643), (0.708, 0.656),
    (0.699, 0.650), (0.691, 0.658), (0.683, 0.650), (0.675, 0.643), (0.670, 0.630), (0.665, 0.656), (0.665, 0.677),
    (0.672, 0.666), (0.686, 0.671), (0.696, 0.677), (0.706, 0.684), (0.714, 0.677), (0.721, 0.687), (0.729, 0.671),
    (0.738, 0.669), (0.743, 0.687), (0.753, 0.664), (0.761, 0.677), (0.753, 0.684), (0.549, 0.493), (0.545, 0.475),
    (0.556, 0.462), (0.554, 0.457), (0.548, 0.446), (0.548, 0.436), (0.574, 0.491), (0.580, 0.475), (0.589, 0.473),
    (0.590, 0.465), (0.607, 0.465), (0.616, 0.478), (0.620, 0.483), (0.626, 0.470), (0.631, 0.475), (0.639, 0.473),
    (0.647, 0.470), (0.634, 0.457), (0.628, 0.452), (0.616, 0.444), (0.618, 0.431), (0.626, 0.426), (0.623, 0.415),
    (0.629, 0.415), (0.639, 0.431), (0.644, 0.446), (0.651, 0.436), (0.655, 0.444), (0.660, 0.462), (0.667, 0.473),
    (0.675, 0.483), (0.681, 0.483), (0.688, 0.473), (0.696, 0.483), (0.704, 0.483), (0.712, 0.494), (0.721, 0.486),
    (0.729, 0.499), (0.737, 0.488), (0.745, 0.483), (0.753, 0.475), (0.761, 0.486), (0.765, 0.504), (0.760, 0.462),
    (0.752, 0.457), (0.745, 0.452), (0.737, 0.446), (0.729, 0.452), (0.721, 0.457), (0.712, 0.462), (0.704, 0.452),
    (0.696, 0.457), (0.688, 0.452), (0.683, 0.446), (0.677, 0.441), (0.669, 0.446), (0.665, 0.436), (0.659, 0.428),
    (0.670, 0.426), (0.680, 0.428), (0.690, 0.431), (0.698, 0.420), (0.711, 0.431), (0.717, 0.436), (0.727, 0.439),
    (0.742, 0.433), (0.750, 0.441), (0.758, 0.431), (0.765, 0.441), (0.761, 0.415), (0.752, 0.410), (0.742, 0.415),
    (0.732, 0.420), (0.724, 0.410), (0.714, 0.405), (0.706, 0.410), (0.696, 0.405), (0.686, 0.410), (0.677, 0.410),
    (0.665, 0.405), (0.655, 0.399), (0.645, 0.399), (0.638, 0.394), (0.633, 0.386), (0.642, 0.378), (0.652, 0.384),
    (0.662, 0.389), (0.675, 0.381), (0.685, 0.373), (0.695, 0.365), (0.701, 0.384), (0.711, 0.384), (0.721, 0.378),
    (0.730, 0.386), (0.740, 0.394), (0.750, 0.389), (0.760, 0.397), (0.763, 0.378), (0.753, 0.371), (0.740, 0.365),
    (0.729, 0.371), (0.719, 0.373), (0.714, 0.360), (0.701, 0.343), (0.685, 0.355), (0.675, 0.360), (0.662, 0.352),
    (0.654, 0.357), (0.639, 0.352), (0.626, 0.352), (0.623, 0.344), (0.610, 0.389), (0.602, 0.392), (0.592, 0.397),
    (0.585, 0.412), (0.595, 0.420), (0.585, 0.386), (0.574, 0.420), (0.579, 0.433), (0.551, 0.397), (0.559, 0.368),
    (0.574, 0.357), (0.593, 0.347), (0.587, 0.365), (0.750, 0.355), (0.756, 0.342), (0.763, 0.352),
    (0.864, 0.687), (0.880, 0.686), (0.875, 0.675), (0.884, 0.674), (0.851, 0.666), (0.841, 0.677), (0.846, 0.681),
    (0.832, 0.687), (0.823, 0.679), (0.804, 0.669), (0.810, 0.664), (0.814, 0.656), (0.825, 0.658), (0.835, 0.653),
    (0.840, 0.660), (0.856, 0.653), (0.861, 0.653), (0.871, 0.664), (0.875, 0.658), (0.881, 0.653), (0.867, 0.647),
    (0.899, 0.653), (0.902, 0.644), (0.904, 0.636), (0.946, 0.647), (0.850, 0.639), (0.847, 0.628), (0.858, 0.627),
    (0.859, 0.622), (0.874, 0.636), (0.878, 0.623), (0.880, 0.614), (0.887, 0.633), (0.891, 0.640), (0.897, 0.627),
    (0.896, 0.618), (0.899, 0.619), (0.918, 0.615), (0.920, 0.597), (0.927, 0.602), (0.949, 0.578), (0.891, 0.601),
    (0.872, 0.607), (0.874, 0.602), (0.872, 0.596), (0.863, 0.606), (0.856, 0.606), (0.853, 0.598), (0.859, 0.592),
    (0.854, 0.586), (0.866, 0.584), (0.838, 0.614), (0.832, 0.609), (0.827, 0.596), (0.818, 0.601), (0.820, 0.622),
    (0.827, 0.624), (0.830, 0.632), (0.823, 0.640), (0.810, 0.630), (0.815, 0.637), (0.805, 0.640), (0.809, 0.614),
    (0.799, 0.614), (0.804, 0.595), (0.810, 0.595), (0.807, 0.588), (0.815, 0.580), (0.825, 0.582), (0.832, 0.577),
    (0.823, 0.567), (0.822, 0.556), (0.825, 0.548), (0.817, 0.546), (0.810, 0.543), (0.805, 0.541), (0.799, 0.546),
    (0.802, 0.551), (0.796, 0.567), (0.791, 0.577), (0.786, 0.588), (0.776, 0.585), (0.792, 0.556), (0.786, 0.551),
    (0.779, 0.543), (0.770, 0.546), (0.773, 0.535), (0.784, 0.535), (0.791, 0.535), (0.788, 0.525), (0.801, 0.514),
    (0.805, 0.520), (0.814, 0.535), (0.818, 0.533), (0.823, 0.530), (0.828, 0.522), (0.817, 0.514), (0.822, 0.512),
    (0.812, 0.504), (0.807, 0.509), (0.792, 0.509), (0.779, 0.512), (0.771, 0.496), (0.783, 0.491), (0.788, 0.483),
    (0.792, 0.491), (0.799, 0.494), (0.805, 0.494), (0.815, 0.494), (0.820, 0.499), (0.832, 0.499), (0.838, 0.504),
    (0.836, 0.514), (0.841, 0.520), (0.840, 0.528), (0.843, 0.546), (0.836, 0.543), (0.845, 0.541), (0.840, 0.554),
    (0.851, 0.551), (0.863, 0.546), (0.858, 0.525), (0.851, 0.513), (0.857, 0.507), (0.859, 0.496), (0.855, 0.483),
    (0.868, 0.509), (0.874, 0.541), (0.879, 0.547), (0.877, 0.534), (0.890, 0.550), (0.897, 0.542), (0.898, 0.529),
    (0.894, 0.521), (0.904, 0.512), (0.881, 0.564), (0.883, 0.505), (0.897, 0.573), (0.900, 0.585), (0.910, 0.578),
    (0.917, 0.573), (0.986, 0.541), (0.906, 0.493), (0.931, 0.477), (0.907, 0.450), (0.886, 0.470), (0.874, 0.477),
    (0.864, 0.479), (0.871, 0.457), (0.880, 0.446), (0.868, 0.440), (0.857, 0.441), (0.847, 0.430), (0.842, 0.454),
    (0.831, 0.458), (0.831, 0.442), (0.847, 0.467), (0.836, 0.478), (0.841, 0.475), (0.884, 0.412), (0.893, 0.420),
    (0.899, 0.410), (0.909, 0.411), (0.872, 0.398), (0.968, 0.419), (0.944, 0.408), (0.959, 0.394), (0.944, 0.386),
    (0.901, 0.384), (0.913, 0.384), (0.949, 0.350), (0.876, 0.356), (0.864, 0.350), (0.854, 0.346), (0.893, 0.342),
    (0.864, 0.376), (0.851, 0.378), (0.851, 0.389), (0.841, 0.387), (0.830, 0.382), (0.835, 0.399), (0.845, 0.406),
    (0.854, 0.408), (0.833, 0.347), (0.840, 0.344), (0.820, 0.437), (0.815, 0.423), (0.812, 0.407), (0.810, 0.391),
    (0.815, 0.381), (0.820, 0.368), (0.812, 0.360), (0.804, 0.368), (0.797, 0.384), (0.791, 0.394), (0.783, 0.384),
    (0.776, 0.376), (0.770, 0.355), (0.788, 0.352), (0.799, 0.347), (0.805, 0.342), (0.773, 0.399), (0.781, 0.407),
    (0.789, 0.415), (0.801, 0.420), (0.776, 0.428), (0.786, 0.428), (0.771, 0.444), (0.779, 0.449), (0.786, 0.446),
    (0.796, 0.457), (0.804, 0.449), (0.807, 0.441), (0.805, 0.433), (0.810, 0.462), (0.802, 0.473), (0.796, 0.470),
    (0.781, 0.470), (0.773, 0.462), (0.770, 0.475), (0.815, 0.478), (0.828, 0.494),
    (0.560, 0.334), (0.548, 0.325), (0.544, 0.314), (0.563, 0.308), (0.565, 0.300), (0.580, 0.301), (0.583, 0.296),
    (0.583, 0.289), (0.557, 0.280), (0.582, 0.278), (0.597, 0.278), (0.594, 0.304), (0.597, 0.308), (0.602, 0.332),
    (0.608, 0.306), (0.617, 0.331), (0.625, 0.330), (0.615, 0.318), (0.624, 0.310), (0.630, 0.310), (0.628, 0.297),
    (0.632, 0.304), (0.633, 0.338), (0.635, 0.325), (0.636, 0.317), (0.640, 0.336), (0.647, 0.309), (0.655, 0.339),
    (0.665, 0.340), (0.665, 0.318), (0.670, 0.316), (0.677, 0.316), (0.681, 0.312), (0.665, 0.296), (0.663, 0.281),
    (0.686, 0.303), (0.686, 0.331), (0.694, 0.316), (0.702, 0.316), (0.702, 0.343), (0.713, 0.333), (0.726, 0.331),
    (0.716, 0.312), (0.723, 0.313), (0.700, 0.301), (0.712, 0.300), (0.721, 0.299), (0.726, 0.295), (0.736, 0.296),
    (0.743, 0.289), (0.706, 0.288), (0.709, 0.282), (0.728, 0.280), (0.748, 0.329), (0.752, 0.338), (0.761, 0.334),
    (0.755, 0.306), (0.761, 0.288), (0.762, 0.279), (0.748, 0.275), (0.680, 0.271), (0.686, 0.270), (0.691, 0.261),
    (0.698, 0.254), (0.690, 0.249), (0.695, 0.238), (0.682, 0.232), (0.690, 0.227), (0.680, 0.220), (0.679, 0.213),
    (0.710, 0.250), (0.705, 0.237), (0.713, 0.237), (0.727, 0.267), (0.730, 0.262), (0.737, 0.266), (0.745, 0.259),
    (0.752, 0.263), (0.724, 0.254), (0.730, 0.231), (0.762, 0.259), (0.760, 0.242), (0.748, 0.242), (0.752, 0.237),
    (0.758, 0.215), (0.744, 0.215), (0.735, 0.210), (0.730, 0.206), (0.724, 0.218), (0.720, 0.207), (0.738, 0.199),
    (0.744, 0.199), (0.724, 0.187), (0.731, 0.179), (0.753, 0.185), (0.762, 0.192), (0.724, 0.159), (0.756, 0.162),
    (0.757, 0.156), (0.759, 0.139), (0.755, 0.134), (0.707, 0.183), (0.703, 0.190), (0.697, 0.197), (0.680, 0.190),
    (0.695, 0.140), (0.661, 0.163), (0.653, 0.227), (0.659, 0.215), (0.665, 0.225), (0.663, 0.237), (0.639, 0.223),
    (0.643, 0.255), (0.651, 0.257), (0.665, 0.257), (0.629, 0.202), (0.607, 0.191), (0.606, 0.216), (0.609, 0.250),
    (0.578, 0.228), (0.575, 0.228), (0.564, 0.182), (0.558, 0.177), (0.595, 0.156), (0.602, 0.159), (0.682, 0.095),
    (0.694, 0.095), (0.716, 0.085), (0.732, 0.101), (0.744, 0.079), (0.751, 0.066), (0.751, 0.098),
    (0.768, 0.333), (0.772, 0.331), (0.785, 0.333), (0.791, 0.335), (0.796, 0.333), (0.809, 0.339), (0.815, 0.337),
    (0.823, 0.337), (0.827, 0.330), (0.831, 0.331), (0.840, 0.342), (0.845, 0.335), (0.847, 0.331), (0.854, 0.343),
    (0.873, 0.324), (0.893, 0.339), (0.892, 0.321), (0.768, 0.319), (0.790, 0.316), (0.805, 0.313), (0.823, 0.308),
    (0.827, 0.312), (0.832, 0.306), (0.838, 0.314), (0.851, 0.306), (0.846, 0.297), (0.770, 0.299), (0.774, 0.296),
    (0.786, 0.296), (0.800, 0.301), (0.805, 0.291), (0.818, 0.292), (0.818, 0.284), (0.766, 0.280), (0.771, 0.276),
    (0.782, 0.279), (0.795, 0.282), (0.814, 0.274), (0.815, 0.270), (0.823, 0.273), (0.768, 0.265), (0.774, 0.262),
    (0.788, 0.256), (0.800, 0.248), (0.804, 0.254), (0.813, 0.243), (0.817, 0.231), (0.825, 0.255), (0.845, 0.252),
    (0.851, 0.245), (0.868, 0.273), (0.879, 0.285), (0.869, 0.251), (0.874, 0.246), (0.878, 0.234), (0.890, 0.253),
    (0.903, 0.279), (0.908, 0.302), (0.911, 0.289), (0.911, 0.259), (0.913, 0.240), (0.791, 0.227), (0.797, 0.230),
    (0.796, 0.212), (0.800, 0.210), (0.772, 0.200), (0.782, 0.196), (0.790, 0.185), (0.769, 0.178), (0.777, 0.176),
    (0.774, 0.170), (0.839, 0.200), (0.861, 0.198), (0.911, 0.199), (0.971, 0.193), (0.890, 0.178), (0.890, 0.157),
    (0.925, 0.159), (0.906, 0.140), (0.862, 0.151), (0.867, 0.148), (0.871, 0.129), (0.828, 0.169), (0.832, 0.165),
    (0.808, 0.163), (0.814, 0.128), (0.781, 0.096), (0.795, 0.085), (0.813, 0.092), (0.822, 0.066), (0.880, 0.064),
    (0.913, 0.053), (0.920, 0.033), (0.925, 0.019), (0.878, 0.006), (0.942, 0.092), (0.942, 0.078), (0.954, 0.079),
]

# more tower points read inside the dense core
tower_core_points = [
    (0.659, 0.603), (0.675, 0.616), (0.683, 0.624), (0.698, 0.632), (0.711, 0.640), (0.721, 0.630), (0.729, 0.640),
    (0.740, 0.656), (0.750, 0.648), (0.760, 0.658), (0.763, 0.606), (0.745, 0.614), (0.734, 0.603), (0.717, 0.609),
    (0.695, 0.598), (0.677, 0.598), (0.665, 0.588), (0.659, 0.556), (0.672, 0.546), (0.691, 0.551), (0.704, 0.546),
    (0.721, 0.535), (0.734, 0.533), (0.747, 0.535), (0.758, 0.535), (0.765, 0.562), (0.743, 0.575), (0.729, 0.575),
    (0.711, 0.577), (0.691, 0.577), (0.672, 0.572), (0.655, 0.562), (0.655, 0.522), (0.668, 0.504), (0.685, 0.504),
    (0.698, 0.504), (0.714, 0.504), (0.743, 0.504), (0.756, 0.499), (0.688, 0.488), (0.701, 0.467), (0.716, 0.473),
    (0.732, 0.473), (0.742, 0.467), (0.765, 0.473), (0.675, 0.467), (0.655, 0.467), (0.645, 0.457), (0.633, 0.441),
    (0.633, 0.426), (0.655, 0.420), (0.681, 0.420), (0.693, 0.418), (0.714, 0.420), (0.737, 0.426), (0.756, 0.405),
    (0.735, 0.405), (0.704, 0.394), (0.688, 0.389), (0.668, 0.373), (0.655, 0.368), (0.645, 0.363), (0.633, 0.371),
    (0.681, 0.347), (0.695, 0.352), (0.724, 0.350), (0.737, 0.352), (0.745, 0.378), (0.758, 0.363), (0.714, 0.371),
    (0.704, 0.360),
    (0.776, 0.677), (0.788, 0.671), (0.799, 0.661), (0.807, 0.679), (0.815, 0.648), (0.832, 0.666), (0.843, 0.640),
    (0.835, 0.627), (0.820, 0.609), (0.843, 0.588), (0.835, 0.593), (0.815, 0.562), (0.809, 0.569), (0.832, 0.559),
    (0.783, 0.567), (0.776, 0.525), (0.799, 0.527), (0.809, 0.525), (0.832, 0.530), (0.848, 0.530), (0.848, 0.494),
    (0.776, 0.483), (0.794, 0.478), (0.805, 0.486), (0.823, 0.483), (0.832, 0.483), (0.823, 0.465), (0.815, 0.457),
    (0.791, 0.457), (0.776, 0.457), (0.799, 0.441), (0.815, 0.444), (0.791, 0.431), (0.802, 0.431), (0.828, 0.431),
    (0.838, 0.415), (0.825, 0.415), (0.805, 0.405), (0.796, 0.410), (0.776, 0.389), (0.789, 0.378), (0.802, 0.384),
    (0.825, 0.384), (0.828, 0.368), (0.794, 0.363), (0.779, 0.365), (0.783, 0.344), (0.822, 0.347),
    (0.672, 0.335), (0.694, 0.333), (0.708, 0.322), (0.734, 0.322), (0.743, 0.317), (0.737, 0.338), (0.698, 0.285),
    (0.717, 0.275), (0.737, 0.278), (0.758, 0.317), (0.776, 0.312), (0.796, 0.322), (0.812, 0.327), (0.835, 0.327),
    (0.776, 0.285), (0.789, 0.285), (0.809, 0.280),
    (0.778, 0.700), (0.790, 0.712), (0.802, 0.700), (0.812, 0.722), (0.828, 0.715), (0.790, 0.760), (0.805, 0.750),
    (0.818, 0.762), (0.830, 0.748), (0.848, 0.735), (0.845, 0.715), (0.858, 0.705), (0.870, 0.725), (0.885, 0.720),
    (0.898, 0.718),
    (0.779, 0.655), (0.792, 0.648), (0.802, 0.632), (0.812, 0.620), (0.842, 0.622), (0.852, 0.612), (0.866, 0.617),
    (0.862, 0.640), (0.888, 0.650), (0.893, 0.663), (0.858, 0.568), (0.849, 0.573), (0.866, 0.560), (0.872, 0.520),
    (0.864, 0.505), (0.845, 0.500), (0.838, 0.488), (0.860, 0.465), (0.870, 0.490), (0.885, 0.488), (0.892, 0.470),
    (0.880, 0.430), (0.862, 0.420), (0.852, 0.452), (0.824, 0.448), (0.842, 0.440), (0.850, 0.395), (0.866, 0.390),
    (0.878, 0.375), (0.888, 0.390), (0.824, 0.398), (0.818, 0.355), (0.845, 0.362), (0.868, 0.362), (0.786, 0.365),
    (0.797, 0.398), (0.779, 0.417), (0.812, 0.445), (0.790, 0.518), (0.780, 0.500), (0.800, 0.580), (0.785, 0.620),
    (0.770, 0.620), (0.770, 0.650), (0.770, 0.530), (0.779, 0.598),
    (0.648, 0.605), (0.640, 0.585), (0.652, 0.548), (0.640, 0.528), (0.632, 0.505), (0.645, 0.500), (0.668, 0.535),
    (0.690, 0.540), (0.705, 0.508), (0.720, 0.512), (0.728, 0.480), (0.745, 0.470), (0.758, 0.450), (0.738, 0.440),
    (0.722, 0.445), (0.708, 0.440), (0.690, 0.442), (0.672, 0.455), (0.660, 0.450), (0.650, 0.425), (0.668, 0.415),
    (0.690, 0.420), (0.700, 0.400), (0.720, 0.395), (0.735, 0.385), (0.748, 0.400), (0.760, 0.385), (0.752, 0.425),
    (0.728, 0.430), (0.660, 0.398), (0.648, 0.385), (0.628, 0.395), (0.618, 0.405), (0.610, 0.440), (0.605, 0.478),
    (0.612, 0.505), (0.630, 0.488), (0.648, 0.478), (0.670, 0.480), (0.692, 0.495), (0.715, 0.485), (0.735, 0.496),
    (0.755, 0.492),
]

model_rh, model_esi = np.array(model_points + model_core_points).T
tower_rh, tower_esi = np.array(tower_points + tower_core_points).T

fig = plt.figure(figsize=(2347 / 300, 1702 / 300), dpi=300)
ax = fig.add_axes([213 / 2347, 1 - 1520 / 1702, (2315 - 213) / 2347, 1400 / 1702])

ax.scatter(model_rh, model_esi, s=9, color='red', label=model_label)
ax.scatter(tower_rh, tower_esi, s=9, color='dodgerblue', label=tower_label)

ax.set_xlim(0, 1.028)
ax.set_ylim(-0.05, 1.05)
ax.set_xticks([0.0, 0.2, 0.4, 0.6, 0.8, 1.0])
ax.set_yticks([0.0, 0.2, 0.4, 0.6, 0.8, 1.0])
ax.tick_params(labelsize=11.5)
ax.set_xlabel('Relative Humidity', fontsize=11.5, labelpad=5.5)
ax.set_ylabel('Evaporative Stress Index', fontsize=11.5, labelpad=5.5)
ax.set_title(title, fontsize=17.5)
ax.legend(loc='upper left', fontsize=13.4, markerscale=2.7)

fig.savefig('out.png', dpi=300)
